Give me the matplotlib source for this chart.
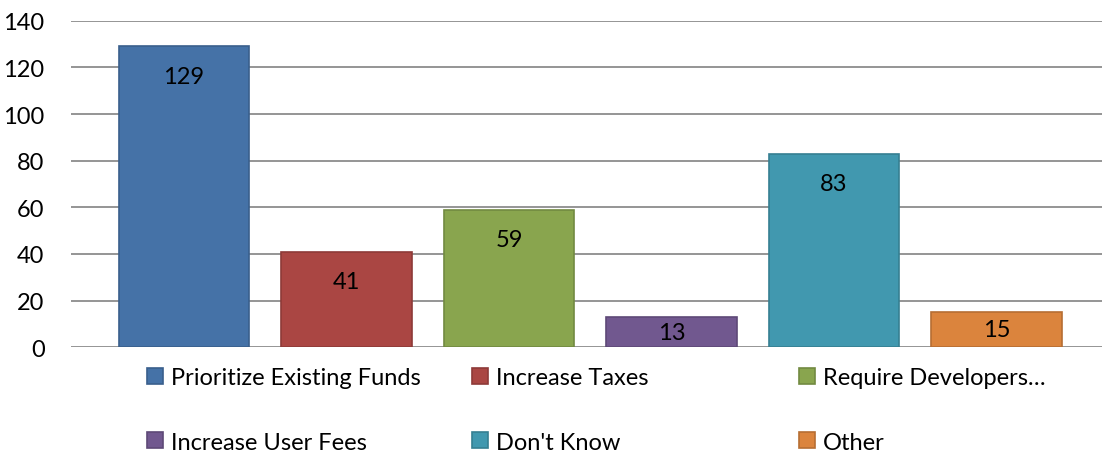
import matplotlib
matplotlib.use("Agg")
import matplotlib.pyplot as plt
import numpy as np

series = ["Prioritize Existing Funds", "Increase Taxes", "Require Developers…",
          "Increase User Fees", "Don't Know", "Other"]
values = [129, 41, 59, 13, 83, 15]
colors = ["#4572A7", "#AA4643", "#89A54E", "#71588F", "#4198AF", "#DB843D"]
edges = ["#3A5F8C", "#8E3A38", "#728A41", "#5E4977", "#367F92", "#B66E33"]
yticks = [0, 20, 40, 60, 80, 100, 120, 140]

plt.rcParams['font.family'] = ['Lato', 'DejaVu Sans']
FS = 17

fig = plt.figure(figsize=(11.02, 4.56), dpi=100)
ax = fig.add_axes([71/1102, 1 - 348.3/456, 1 - 71/1102, (348.3 - 21.7)/456])

x = np.arange(len(values))
bars = []
for i, (v, c, e, s) in enumerate(zip(values, colors, edges, series)):
    b = ax.bar(x[i], v, width=0.803, color=c, edgecolor=e, linewidth=1.2,
               label=s, zorder=3)
    bars.append(b)
    bar_px = v * (326.6 / 140)
    off = 30 if bar_px > 60 else bar_px / 2
    ax.annotate(str(v), (x[i], v), xytext=(0, -off), textcoords='offset pixels',
                ha='center', va='center', fontsize=FS, color='black', zorder=4)

ax.set_xlim(-(184 - 71) / 162.5, (1102 - 184) / 162.5)
ax.set_ylim(0, 140)
ax.set_yticks(yticks)
ax.set_xticks([])
ax.tick_params(axis='y', length=0, pad=19, labelsize=FS)
for sp in ax.spines.values():
    sp.set_visible(False)
ax.yaxis.grid(True, color='#8C8C8C', linewidth=1.3, zorder=0)
ax.set_axisbelow(True)

# legend: three columns, evenly spaced
cols = [(0, 3), (1, 4), (2, 5)]
xpos = [147, 472, 799]
for (a, b), xp in zip(cols, xpos):
    leg = fig.legend([bars[a], bars[b]], [series[a], series[b]],
                     loc='upper left', bbox_to_anchor=(xp / 1102, 1 - 368 / 456),
                     frameon=False, fontsize=FS, handlelength=0.66, handleheight=0.66,
                     handletextpad=0.35, borderpad=0, borderaxespad=0,
                     labelspacing=1.85)

fig.savefig("out.png", dpi=100)
